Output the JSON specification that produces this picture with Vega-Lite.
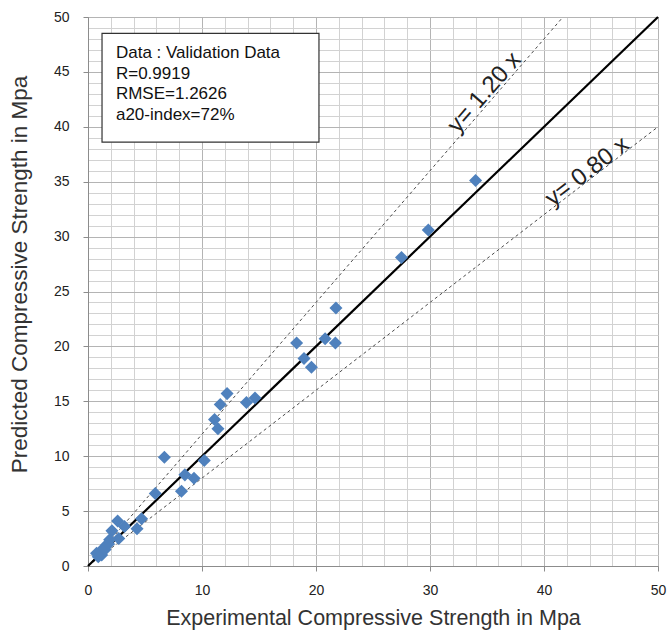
{
  "$schema": "https://vega.github.io/schema/vega-lite/v6.json",
  "width": 570,
  "height": 549,
  "autosize": "none",
  "padding": {"left": 88, "top": 17, "right": 9, "bottom": 65},
  "background": "white",
  "config": {
    "font": "Liberation Sans",
    "view": {"stroke": "#8c8c8c", "strokeWidth": 1}
  },
  "datasets": {
    "points": [
      {"x": 34.0, "y": 35.1}, {"x": 29.85, "y": 30.6}, {"x": 27.5, "y": 28.1},
      {"x": 21.75, "y": 23.5}, {"x": 20.8, "y": 20.7}, {"x": 21.7, "y": 20.3},
      {"x": 18.3, "y": 20.3}, {"x": 18.95, "y": 18.9}, {"x": 19.6, "y": 18.1},
      {"x": 12.2, "y": 15.7}, {"x": 11.6, "y": 14.7}, {"x": 11.1, "y": 13.35},
      {"x": 11.4, "y": 12.5}, {"x": 13.9, "y": 14.9}, {"x": 14.65, "y": 15.3},
      {"x": 6.7, "y": 9.9}, {"x": 10.2, "y": 9.6}, {"x": 8.5, "y": 8.3},
      {"x": 9.3, "y": 8.0}, {"x": 8.2, "y": 6.8}, {"x": 5.9, "y": 6.6},
      {"x": 4.7, "y": 4.3}, {"x": 4.3, "y": 3.4}, {"x": 2.6, "y": 4.1},
      {"x": 3.2, "y": 3.6}, {"x": 2.1, "y": 3.2}, {"x": 2.7, "y": 2.5},
      {"x": 1.9, "y": 2.4}, {"x": 1.6, "y": 1.9}, {"x": 1.35, "y": 1.6},
      {"x": 1.05, "y": 1.3}, {"x": 0.75, "y": 1.15}, {"x": 1.2, "y": 1.0},
      {"x": 1.5, "y": 1.5}, {"x": 0.9, "y": 0.85}, {"x": 1.8, "y": 2.0}
    ],
    "solid": [{"x": 0, "y": 0, "xe": 50, "ye": 50}],
    "dashed": [
      {"x": 0, "y": 0, "xe": 41.667, "ye": 50},
      {"x": 0, "y": 0, "xe": 50, "ye": 40}
    ],
    "box": [{"x": 1.23, "xe": 20.26, "y": 38.6, "ye": 48.5}],
    "boxText": [
      {"t": "Data : Validation Data", "x": 2.45, "y": 46.7},
      {"t": "R=0.9919", "x": 2.45, "y": 44.85},
      {"t": "RMSE=1.2626", "x": 2.45, "y": 42.95},
      {"t": "a20-index=72%", "x": 2.45, "y": 41.05}
    ],
    "lab120": [{"t": "y= 1.20 x", "x": 34.8, "y": 43.1}],
    "lab080": [{"t": "y= 0.80 x", "x": 43.8, "y": 35.9}]
  },
  "encoding": {
    "x": {"field": "x", "type": "quantitative", "scale": {"domain": [0, 50], "nice": false},
      "axis": {
        "values": [0,2,4,6,8,10,12,14,16,18,20,22,24,26,28,30,32,34,36,38,40,42,44,46,48,50],
        "grid": true,
        "gridColor": {"condition": {"test": "datum.value % 10 === 0", "value": "#b4b4b4"}, "value": "#d2d2d2"},
        "gridWidth": 1,
        "labelExpr": "datum.value % 10 === 0 ? datum.label : ''",
        "tickOpacity": {"condition": {"test": "datum.value % 10 === 0", "value": 1}, "value": 0},
        "labelOverlap": false,
        "labelFlush": false,
        "domainColor": "#8c8c8c",
        "tickColor": "#8c8c8c",
        "tickSize": 5,
        "labelFontSize": 14,
        "labelColor": "#222222",
        "labelPadding": 12,
        "title": "Experimental  Compressive Strength  in Mpa",
        "titleFontSize": 21.5,
        "titleFontWeight": "normal",
        "titleColor": "#333333",
        "titlePadding": 10
      }},
    "y": {"field": "y", "type": "quantitative", "scale": {"domain": [0, 50], "nice": false},
      "axis": {
        "values": [0,1,2,3,4,5,6,7,8,9,10,11,12,13,14,15,16,17,18,19,20,21,22,23,24,25,26,27,28,29,30,31,32,33,34,35,36,37,38,39,40,41,42,43,44,45,46,47,48,49,50],
        "grid": true,
        "gridColor": {"condition": {"test": "datum.value % 5 === 0", "value": "#b4b4b4"}, "value": "#d2d2d2"},
        "gridWidth": 1,
        "labelExpr": "datum.value % 5 === 0 ? datum.label : ''",
        "tickOpacity": {"condition": {"test": "datum.value % 5 === 0", "value": 1}, "value": 0},
        "labelOverlap": false,
        "labelFlush": false,
        "domainColor": "#8c8c8c",
        "tickColor": "#8c8c8c",
        "tickSize": 5,
        "labelFontSize": 14,
        "labelColor": "#222222",
        "labelPadding": 14,
        "title": "Predicted Compressive Strength in Mpa",
        "titleFontSize": 22.5,
        "titleFontWeight": "normal",
        "titleColor": "#333333",
        "titlePadding": 22,
        "titleY": 257
      }}
  },
  "layer": [
    {
      "data": {"name": "box"},
      "mark": {"type": "rect", "fill": "white", "stroke": "#333333", "strokeWidth": 1.2},
      "encoding": {"x2": {"field": "xe"}, "y2": {"field": "ye"}}
    },
    {
      "data": {"name": "boxText"},
      "mark": {"type": "text", "align": "left", "baseline": "middle", "fontSize": 17, "color": "#111111"},
      "encoding": {"text": {"field": "t"}}
    },
    {
      "data": {"name": "dashed"},
      "mark": {"type": "rule", "color": "#4a4a4a", "strokeWidth": 1, "strokeDash": [3, 3]},
      "encoding": {"x2": {"field": "xe"}, "y2": {"field": "ye"}}
    },
    {
      "data": {"name": "solid"},
      "mark": {"type": "rule", "color": "#000000", "strokeWidth": 2.2},
      "encoding": {"x2": {"field": "xe"}, "y2": {"field": "ye"}}
    },
    {
      "data": {"name": "points"},
      "mark": {"type": "point", "shape": "diamond", "filled": true, "size": 170, "color": "#4f81bd", "opacity": 1},
      "encoding": {}
    },
    {
      "data": {"name": "lab120"},
      "mark": {"type": "text", "angle": -49, "fontSize": 24, "color": "#222222", "align": "center", "baseline": "middle"},
      "encoding": {"text": {"field": "t"}}
    },
    {
      "data": {"name": "lab080"},
      "mark": {"type": "text", "angle": -37.6, "fontSize": 24, "color": "#222222", "align": "center", "baseline": "middle"},
      "encoding": {"text": {"field": "t"}}
    }
  ]
}
